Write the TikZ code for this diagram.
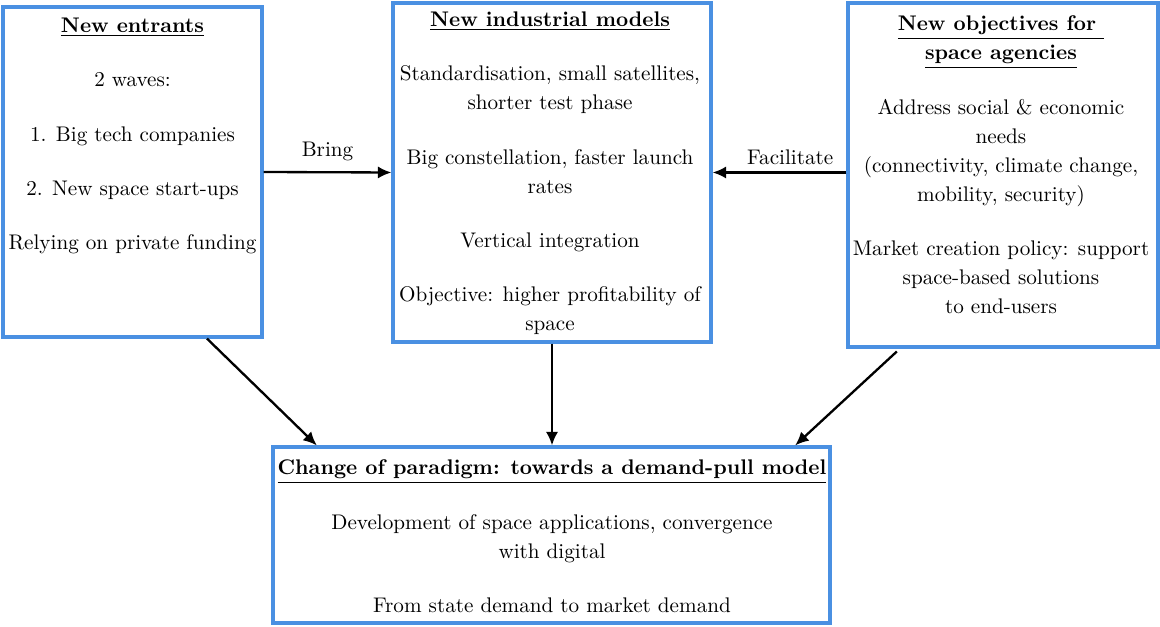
\documentclass[tikz,border=0pt]{standalone}
\usepackage{tikz}
\usepackage{xcolor}
\usetikzlibrary{positioning, arrows.meta, fit, calc}
\definecolor{frame}{HTML}{4A90E2}
\definecolor{ink}{HTML}{000000}

\begin{document}
\begin{tikzpicture}[x=0.4728pt, y=-0.4728pt,
  panel/.style={rectangle, draw=frame, line width=1.5pt, inner sep=0pt},
  body/.style={align=center, inner sep=0pt, font=\fontsize{10}{13.7}\selectfont, ink},
  link/.style={-{Latex[length=6.4pt, width=5.8pt]}, line width=1.1pt, ink}]
  \useasboundingbox (0,0) rectangle (1160,627);

  % Boxes
  \node[panel, fit={(3,7) (262,337)}] (entrants) {};
  \node[panel, fit={(393,3) (711,342)}] (industrial) {};
  \node[panel, fit={(848,3) (1158,347)}] (objectives) {};
  \node[panel, fit={(273,447) (830,623)}] (paradigm) {};

  % Texts
  \node[body] (entrantsText) at (132.5,136) {\underline{\textbf{New entrants}}\\[12pt]
    2 waves:\\[12pt] 1. Big tech companies\\[12pt] 2. New space start-ups\\[12pt]
    Relying on private funding};
  \node[body] (industrialText) at (550,173.5) {\underline{\textbf{New industrial models}}\\[12pt]
    Standardisation, small satellites,\\ shorter test phase\\[12pt]
    Big constellation, faster launch\\ rates\\[12pt]
    Vertical integration\\[12pt]
    Objective: higher profitability of\\ space};
  \node[body] (objectivesText) at (1001,165) {\underline{\textbf{New objectives for\ }}\\
    \underline{\textbf{space agencies}}\\[12pt]
    Address social \& economic\\ needs\\ (connectivity, climate change,\\
    mobility, security)\\[12pt]
    Market creation policy: support\\ space-based solutions\\ to end-users};
  \node[body] (paradigmText) at (552,536.5) {\underline{\textbf{Change of paradigm: towards a demand-pull model}}\\[12pt]
    Development of space applications, convergence\\ with digital\\[12pt]
    From state demand to market demand};

  % Arrows
  \draw[link] (entrants.east) -- node[above=1.5pt, font=\fontsize{10}{12}\selectfont] (bring) {Bring} (industrial.west);
  \draw[link] (objectives.west |- industrial.west) -- node[pos=0.42, above, font=\fontsize{10}{12}\selectfont] (facilitate) {Facilitate} (industrial.east);
  \draw[link] ($(entrants.south west)!0.784!(entrants.south east)$) -- ($(paradigm.north west)!0.081!(paradigm.north east)$);
  \draw[link] (industrial.south) -- (industrial.south |- paradigm.north);
  \draw[link, shorten <=2pt] ($(objectives.south west)!0.171!(objectives.south east)$) -- ($(paradigm.north west)!0.935!(paradigm.north east)$);
\end{tikzpicture}
\end{document}
